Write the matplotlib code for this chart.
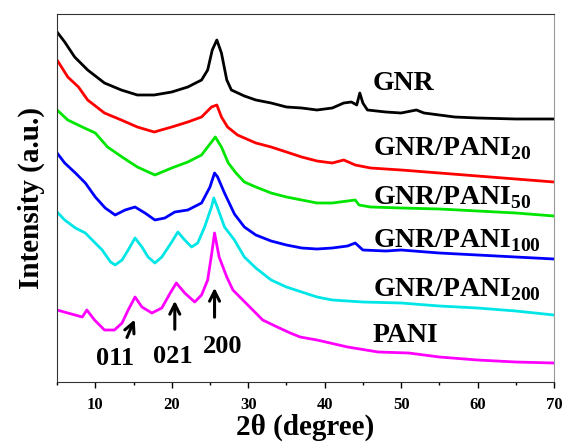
import matplotlib.pyplot as plt

plt.rcParams['font.family'] = 'Liberation Serif'
plt.rcParams['font.weight'] = 'bold'
plt.rcParams['mathtext.fontset'] = 'custom'
plt.rcParams['mathtext.rm'] = 'Liberation Serif:bold'
plt.rcParams['mathtext.bf'] = 'Liberation Serif:bold'

# XRD patterns, offset for clarity (intensity in arbitrary units)
gnr_x = [5, 6, 7.3, 9, 11.2, 13.4, 15.5, 17.7, 20, 22.1, 23.9, 24.7, 25.3, 25.9, 26.5, 27.2, 27.8,
         29.5, 31, 33, 35, 37, 39, 41, 42.5, 43.5, 44.2, 44.6, 45, 45.6, 48, 50, 52, 53, 55, 57, 60, 65, 70]
gnr_y = [350, 340, 325, 312, 299, 292, 287, 287, 290, 295, 302, 312, 332, 342, 329, 302, 292,
         286, 282, 279, 275, 274, 272, 274, 279, 280, 277, 289, 279, 272, 270, 269, 272, 269, 267, 265, 264, 263, 263]

p20_x = [5, 6.4, 7.8, 9, 11.2, 13.4, 15.5, 17.7, 20, 22.1, 23.9, 25.2, 25.9, 26.5, 27.3, 28.6, 29.5,
         31, 33, 35, 37, 39, 41, 42.5, 44, 46, 50, 55, 60, 65, 70]
p20_y = [322, 305, 295, 282, 269, 262, 255, 250, 255, 260, 265, 275, 277, 265, 255, 247, 244,
         239, 235, 230, 225, 221, 219, 222, 217, 214, 212, 209, 206, 203, 200]

p50_x = [5, 6.4, 8.3, 10, 11.6, 13.5, 15.5, 17.8, 20, 22.1, 23.9, 25.7, 26.5, 27.4, 28.4, 29.5,
         31, 33, 35, 37, 39, 41, 44, 44.5, 46, 50, 55, 60, 65, 70]
p50_y = [272, 262, 255, 249, 235, 225, 215, 207, 214, 220, 227, 245, 235, 219, 209, 200,
         195, 189, 185, 182, 179, 179, 182, 177, 175, 174, 173, 171, 169, 166]

p100_x = [5, 6, 7.4, 8.7, 10, 11.3, 12.6, 13.9, 15.2, 16.5, 17.8, 19.1, 20.4, 22.1, 23.9, 25, 25.6,
          26, 26.9, 28.2, 29.5, 31, 33, 35, 37, 39, 41, 43, 44, 45, 48, 50, 55, 60, 65, 70]
p100_y = [229, 219, 209, 199, 185, 174, 167, 172, 175, 169, 162, 164, 170, 172, 179, 195, 209,
          205, 189, 168, 155, 147, 141, 137, 134, 133, 134, 136, 139, 132, 131, 132, 129, 127, 125, 123]

p200_x = [5, 6, 7.4, 8.7, 9.6, 10.9, 12, 12.6, 13.5, 14.3, 15.2, 16.1, 16.9, 17.8, 18.7, 20, 20.8,
          21.7, 22.6, 23.4, 24.3, 25.2, 25.5, 26, 26.9, 28.2, 29.5, 31, 33, 35, 37, 39, 41, 45, 50,
          55, 60, 65, 70]
p200_y = [170, 162, 154, 149, 142, 132, 120, 117, 122, 132, 144, 135, 125, 119, 125, 140, 150,
          142, 135, 139, 155, 175, 184, 174, 155, 142, 125, 114, 102, 95, 90, 85, 82, 80, 79,
          76, 74, 71, 67]

pani_x = [5, 6.4, 8.3, 8.9, 9.9, 11.2, 12.5, 13.5, 14.3, 15.2, 16.1, 17.4, 18.7, 19.8, 20.6, 21.7,
          23, 23.9, 24.7, 25.2, 25.6, 26.2, 27.2, 28, 29.3, 30.6, 31.9, 33.8, 35.5, 36.8, 39, 43,
          47, 51, 55, 60, 65, 70]
pani_y = [72, 69, 65, 72, 62, 52, 52, 59, 72, 85, 75, 69, 74, 89, 99, 89,
          80, 87, 102, 127, 149, 125, 105, 92, 82, 72, 62, 55, 49, 45, 42, 35,
          30, 29, 25, 22, 20, 19]

series = [
    (gnr_x, gnr_y, 'black'),
    (p20_x, p20_y, '#ff0000'),
    (p50_x, p50_y, '#00e600'),
    (p100_x, p100_y, '#0000ff'),
    (p200_x, p200_y, '#00e6e6'),
    (pani_x, pani_y, '#ff00ff'),
]

labels = ['GNR', 'GNR/PANI$_{20}$', 'GNR/PANI$_{50}$', 'GNR/PANI$_{100}$',
          'GNR/PANI$_{200}$', 'PANI']
label_y = [292, 227, 178, 135, 86, 40]

peaks = ['011', '021', '200']
arrow_tail = [(14.0, 42), (20.4, 50), (25.6, 62)]
arrow_head = [(15.3, 65), (20.4, 84), (25.6, 97)]
peak_text = [(12.6, 17), (20.2, 19), (26.7, 29)]

fig = plt.figure(figsize=(5.65, 4.47), dpi=100)
ax = fig.add_axes([0.101, 0.1454, 0.8795, 0.8233])

for x, y, c in series:
    ax.plot(x, y, color=c, linewidth=2.0)

for lab, ly in zip(labels, label_y):
    ax.text(46.3, ly, lab, fontsize=20, fontweight='bold', va='baseline', ha='left')

for name, tail, head, tp in zip(peaks, arrow_tail, arrow_head, peak_text):
    ax.annotate('', xy=head, xytext=tail,
                arrowprops=dict(arrowstyle='->', lw=2.2, color='black', mutation_scale=18))
    ax.text(tp[0], tp[1], name, fontsize=19, fontweight='bold', ha='center', va='baseline')

ax.set_xlim(5, 70)
ax.set_ylim(0, 368)
ax.set_yticks([])
ax.set_xticks([10, 20, 30, 40, 50, 60, 70])
ax.set_xticks(range(5, 71, 5), minor=True)
ax.tick_params(axis='x', which='major', direction='out', length=4.5, width=1, labelsize=12, pad=6)
ax.tick_params(axis='x', which='minor', direction='out', length=2.5, width=1)
for lab in ax.get_xticklabels():
    lab.set_fontweight('bold')
for s in ['left', 'bottom', 'top']:
    ax.spines[s].set_color('#333333')
ax.spines['right'].set_color('#999999')

ax.set_xlabel('2θ (degree)', fontsize=21, fontweight='bold', labelpad=1)
ax.set_ylabel('Intensity (a.u.)', fontsize=21, fontweight='bold', labelpad=9)

fig.savefig('out.png', dpi=100)
